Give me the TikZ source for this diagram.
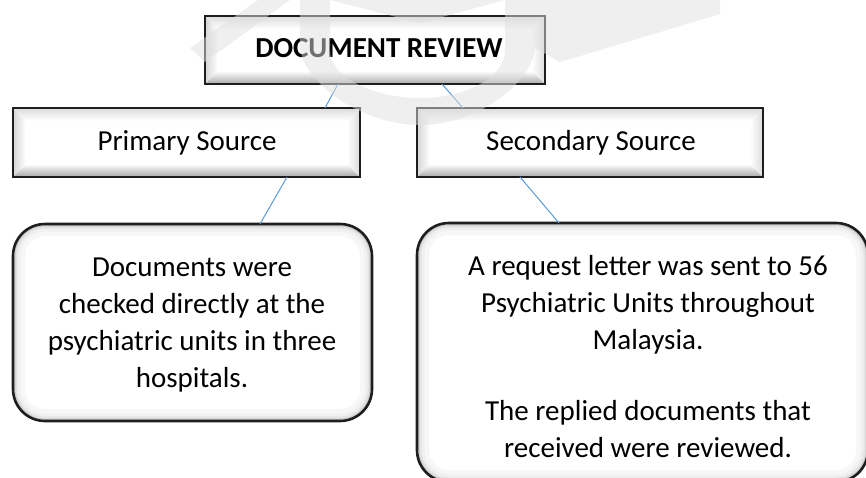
\documentclass[tikz,border=0pt]{standalone}
\usepackage{fontspec}
\setmainfont{Carlito}
\usetikzlibrary{calc}

\definecolor{linkblue}{RGB}{91,155,213}
\definecolor{framegray}{RGB}{30,30,30}

% Bevelled frame round a rectangular node: #1 node name, #2 bevel depth
\newcommand\bevelframe[2]{%
  \shade[top color=black!14, bottom color=white]
    (#1.north west) -- (#1.north east) -- ($(#1.north east)+(-#2,#2)$) -- ($(#1.north west)+(#2,#2)$) -- cycle;
  \shade[left color=black!16, right color=white]
    (#1.north west) -- ($(#1.north west)+(#2,#2)$) -- ($(#1.south west)+(#2,-#2)$) -- (#1.south west) -- cycle;
  \shade[top color=white, bottom color=black!34]
    (#1.south west) -- ($(#1.south west)+(#2,-#2)$) -- ($(#1.south east)+(-#2,-#2)$) -- (#1.south east) -- cycle;
  \shade[left color=white, right color=black!14]
    (#1.north east) -- ($(#1.north east)+(-#2,#2)$) -- ($(#1.south east)+(-#2,-#2)$) -- (#1.south east) -- cycle;
  \draw[frameline] (#1.north west) rectangle (#1.south east);
}

% Rounded panel with a soft inner shadow: #1 node name
\newcommand\softpanel[1]{%
  \begin{scope}
    \clip[rounded corners=32pt] (#1.north west) rectangle (#1.south east);
    \draw[rounded corners=32pt, line width=24pt, black!3] (#1.north west) rectangle (#1.south east);
    \draw[rounded corners=32pt, line width=15pt, black!6] (#1.north west) rectangle (#1.south east);
    \draw[rounded corners=32pt, line width=9pt, black!11] (#1.north west) rectangle (#1.south east);
    \draw[rounded corners=32pt, line width=5pt, black!20] (#1.north west) rectangle (#1.south east);
  \end{scope}
  \draw[frameline, rounded corners=32pt] (#1.north west) rectangle (#1.south east);
}

\begin{document}
\begin{tikzpicture}[x=1pt, y=-1pt,
  flatbox/.style={rectangle, fill=white, inner sep=0pt, outer sep=0pt},
  panelbox/.style={rectangle, rounded corners=32pt, fill=white, inner sep=0pt, outer sep=0pt},
  boxtext/.style={font=\fontsize{29}{36.7}\selectfont, align=center, inner sep=0pt, anchor=base},
  frameline/.style={draw=framegray, line width=2.6pt},
  link/.style={draw=linkblue, line width=1pt},
  watermark/.style={fill=black!12, opacity=0.5, draw=none},
]
\useasboundingbox (0,0) rectangle (866,477);

% boxes
\node[flatbox, minimum width=340pt, minimum height=68pt] (top) at (375,50) {};
\node[flatbox, minimum width=347pt, minimum height=69pt] (primary) at (186.5,142.5) {};
\node[flatbox, minimum width=346pt, minimum height=69pt] (secondary) at (590,142.5) {};
\node[panelbox, minimum width=359pt, minimum height=197pt] (docsA) at (192.5,322.5) {};
\node[panelbox, minimum width=451pt, minimum height=259pt] (docsB) at (642.5,352.5) {};

\bevelframe{top}{13}
\bevelframe{primary}{13}
\bevelframe{secondary}{13}
\softpanel{docsA}
\softpanel{docsB}

% texts (a multi-line node sits on the baseline of its last line)
\node[boxtext, font=\bfseries\fontsize{29}{36.7}\selectfont] (topText) at (379,57) {DOCUMENT REVIEW};
\node[boxtext] (primaryText) at (187,150) {Primary Source};
\node[boxtext] (secondaryText) at (591,150) {Secondary Source};
\node[boxtext] (docsAText) at (192,387) {Documents were\\checked directly at the\\psychiatric units in three\\hospitals.};
\node[boxtext] (docsBText) at (648,457) {A request letter was sent to 56\\Psychiatric Units throughout\\Malaysia.\\[34.6pt]The replied documents that\\received were reviewed.};

% connectors
\coordinate (c1a) at ($(top.south west)+(133,0)$);
\coordinate (c1b) at ($(primary.north west)+(312,0)$);
\coordinate (c2a) at ($(top.south west)+(237,0)$);
\coordinate (c2b) at ($(secondary.north west)+(46,0)$);
\coordinate (c3a) at ($(primary.south west)+(274,0)$);
\coordinate (c3b) at ($(docsA.north west)+(247,0)$);
\coordinate (c4a) at ($(secondary.south west)+(103,0)$);
\coordinate (c4b) at ($(docsB.north west)+(142,0)$);
\draw[link] (c1a) -- (c1b);
\draw[link] (c2a) -- (c2b);
\draw[link] (c3a) -- (c3b);
\draw[link] (c4a) -- (c4b);

% faint emblem over the top of the page
\fill[watermark] (190,48) -- (258,0) -- (290,0) -- (205,62) -- cycle;
\fill[watermark] (535,0) -- (720,0) -- (720,14) -- (560,62) -- (535,48) -- cycle;
\fill[watermark] (300,0) -- (300,45) .. controls (300,80) and (360,125) .. (420,125)
  .. controls (480,125) and (535,80) .. (535,45) -- (535,0) -- (505,0) -- (505,50)
  .. controls (505,78) and (465,98) .. (420,98) .. controls (375,98) and (330,78) .. (330,50)
  -- (330,0) -- cycle;
\fill[watermark] (330,0) -- (420,23) -- (505,0) -- cycle;
\end{tikzpicture}
\end{document}
